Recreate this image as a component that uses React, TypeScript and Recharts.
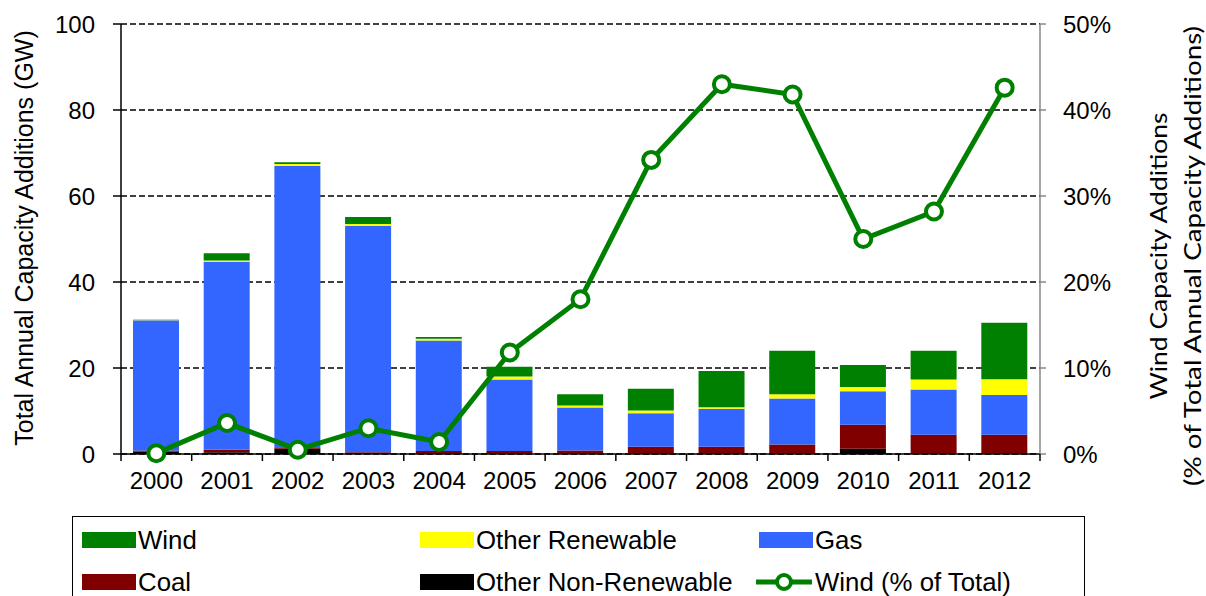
import React from "react";
import {
  ComposedChart,
  Bar,
  Line,
  XAxis,
  YAxis,
  CartesianGrid,
} from "recharts";

const years = ["2000", "2001", "2002", "2003", "2004", "2005", "2006", "2007", "2008", "2009", "2010", "2011", "2012"];
const otherNonRenewable = [0.6, 0.4, 1.2, 0.1, 0.2, 0.1, 0.1, 0.1, 0.1, 0.1, 1.2, 0.1, 0.1];
const coal = [0.2, 0.6, 0.2, 0.3, 0.5, 0.6, 0.7, 1.6, 1.6, 2.1, 5.6, 4.4, 4.4];
const gas = [30.3, 43.7, 65.6, 52.6, 25.7, 16.6, 10.0, 7.8, 8.8, 10.7, 7.8, 10.5, 9.2];
const otherRenewable = [0.1, 0.3, 0.45, 0.5, 0.4, 0.7, 0.5, 0.6, 0.4, 1.0, 1.0, 2.3, 3.7];
const wind = [0.1, 1.7, 0.4, 1.6, 0.4, 2.3, 2.6, 5.1, 8.4, 10.1, 5.1, 6.7, 13.1];
const windPct = [0.1, 3.6, 0.5, 3.0, 1.4, 11.8, 18.0, 34.2, 43.0, 41.8, 25.0, 28.2, 42.6];

const leftTicks = [0, 20, 40, 60, 80, 100];
const rightTicks = [0, 10, 20, 30, 40, 50];

const COLORS = {
  wind: "#008000",
  otherRenewable: "#FFFF00",
  gas: "#3366FF",
  coal: "#800000",
  otherNonRenewable: "#000000",
};

const data = years.map((y, i) => ({
  year: y,
  otherNonRenewable: otherNonRenewable[i],
  coal: coal[i],
  gas: gas[i],
  otherRenewable: otherRenewable[i],
  wind: wind[i],
  windPct: windPct[i],
}));

const W = 1206;
const H = 596;
const LEFT_W = 121;
const RIGHT_W = 166;
const TOP = 24;
const X_H = 50;
const BOTTOM_M = 92;
const PLOT_W = W - LEFT_W - RIGHT_W;
const BAND = PLOT_W / years.length;
const FONT = "'Liberation Sans', Arial, sans-serif";

const XTick = (props: any) => {
  const { x, payload, index } = props;
  const half = BAND / 2;
  const axisY = H - BOTTOM_M - X_H;
  return (
    <g>
      <line x1={x - half} x2={x - half} y1={axisY} y2={axisY + 7} stroke="#000" strokeWidth={1.5} />
      {index === years.length - 1 && (
        <line x1={x + half} x2={x + half} y1={axisY} y2={axisY + 7} stroke="#000" strokeWidth={1.5} />
      )}
      <text x={x} y={axisY + 35} textAnchor="middle" fontFamily={FONT} fontSize={24} fill="#000">
        {payload.value}
      </text>
    </g>
  );
};

const legendBars = [
  { name: "Wind", color: COLORS.wind, col: 0, row: 0 },
  { name: "Other Renewable", color: COLORS.otherRenewable, col: 1, row: 0 },
  { name: "Gas", color: COLORS.gas, col: 2, row: 0 },
  { name: "Coal", color: COLORS.coal, col: 0, row: 1 },
  { name: "Other Non-Renewable", color: COLORS.otherNonRenewable, col: 1, row: 1 },
];
const colX = [82, 420, 759];
const rowY = [540, 582];
const LEGEND_FS = 25.8;

export default function App() {
  return (
    <div style={{ position: "absolute", left: 0, top: 0, width: W, height: H, overflow: "hidden", background: "#fff" }}>
      <ComposedChart
        width={W}
        height={H}
        data={data}
        margin={{ top: TOP, right: 0, bottom: BOTTOM_M, left: 0 }}
        barSize={46}
      >
        <CartesianGrid
          yAxisId="left"
          vertical={false}
          stroke="#000"
          strokeDasharray="6 3"
          strokeWidth={1.3}
        />
        <XAxis
          dataKey="year"
          height={X_H}
          interval={0}
          tickLine={false}
          axisLine={{ stroke: "#000", strokeWidth: 1.5 }}
          tick={<XTick />}
        />
        <YAxis
          yAxisId="left"
          width={LEFT_W}
          domain={[0, 100]}
          ticks={leftTicks}
          interval={0}
          tickSize={8}
          tickMargin={18}
          axisLine={{ stroke: "#000", strokeWidth: 1.5 }}
          tickLine={{ stroke: "#000", strokeWidth: 1.5 }}
          tick={{ fontFamily: FONT, fontSize: 24, fill: "#000" }}
        />
        <YAxis
          yAxisId="right"
          orientation="right"
          width={RIGHT_W}
          domain={[0, 50]}
          ticks={rightTicks}
          interval={0}
          tickSize={6}
          tickMargin={17}
          tickFormatter={(v: number) => `${v}%`}
          axisLine={{ stroke: "#888", strokeWidth: 1.5 }}
          tickLine={{ stroke: "#888", strokeWidth: 1.5 }}
          tick={{ fontFamily: FONT, fontSize: 24, fill: "#000", textAnchor: "start" }}
        />
        <Bar yAxisId="left" dataKey="otherNonRenewable" stackId="a" fill={COLORS.otherNonRenewable} isAnimationActive={false} />
        <Bar yAxisId="left" dataKey="coal" stackId="a" fill={COLORS.coal} isAnimationActive={false} />
        <Bar yAxisId="left" dataKey="gas" stackId="a" fill={COLORS.gas} isAnimationActive={false} />
        <Bar yAxisId="left" dataKey="otherRenewable" stackId="a" fill={COLORS.otherRenewable} isAnimationActive={false} />
        <Bar yAxisId="left" dataKey="wind" stackId="a" fill={COLORS.wind} isAnimationActive={false} />
        <Line
          yAxisId="right"
          dataKey="windPct"
          stroke={COLORS.wind}
          strokeWidth={5}
          dot={{ r: 8, fill: "#fff", stroke: COLORS.wind, strokeWidth: 4 }}
          activeDot={false}
          isAnimationActive={false}
        />
        <text
          x={24}
          y={238}
          transform="rotate(-90 24 238)"
          textAnchor="middle"
          dominantBaseline="central"
          fontFamily={FONT}
          fontSize={25}
          fill="#000"
        >
          Total Annual Capacity Additions (GW)
        </text>
        <text
          x={1157}
          y={256}
          transform="rotate(-90 1157 256)"
          textAnchor="middle"
          dominantBaseline="central"
          fontFamily="Lato, 'Open Sans', sans-serif"
          fontSize={24}
          fill="#000"
          textLength={287}
          lengthAdjust="spacingAndGlyphs"
        >
          Wind Capacity Additions
        </text>
        <text
          x={1191}
          y={256}
          transform="rotate(-90 1191 256)"
          textAnchor="middle"
          dominantBaseline="central"
          fontFamily="Lato, 'Open Sans', sans-serif"
          fontSize={24}
          fill="#000"
          textLength={460}
          lengthAdjust="spacingAndGlyphs"
        >
          (% of Total Annual Capacity Additions)
        </text>
      </ComposedChart>
      <div
        style={{
          position: "absolute",
          left: 72,
          top: 516,
          width: 1013,
          height: 100,
          border: "1.5px solid #000",
          boxSizing: "border-box",
        }}
      />
      <svg style={{ position: "absolute", left: 0, top: 0 }} width={W} height={H}>
        {legendBars.map((it) => (
          <g key={it.name}>
            <rect x={colX[it.col]} y={rowY[it.row] - 8} width={54} height={16} fill={it.color} />
            <text
              x={colX[it.col] + 56}
              y={rowY[it.row]}
              dominantBaseline="central"
              fontFamily={FONT}
              fontSize={LEGEND_FS}
              fill="#000"
            >
              {it.name}
            </text>
          </g>
        ))}
        <g>
          <line x1={756} x2={812} y1={rowY[1]} y2={rowY[1]} stroke={COLORS.wind} strokeWidth={5} />
          <circle cx={784} cy={rowY[1]} r={7} fill="#fff" stroke={COLORS.wind} strokeWidth={4} />
          <text x={815} y={rowY[1]} dominantBaseline="central" fontFamily={FONT} fontSize={LEGEND_FS} fill="#000">
            Wind (% of Total)
          </text>
        </g>
      </svg>
    </div>
  );
}
